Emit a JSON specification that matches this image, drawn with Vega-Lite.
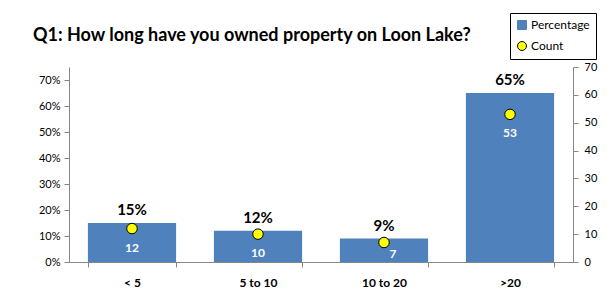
{
  "$schema": "https://vega.github.io/schema/vega-lite/v6.json",
  "width": 504,
  "height": 195,
  "autosize": {"type": "none"},
  "padding": {"left": 69, "top": 67, "right": 43, "bottom": 37},
  "background": "white",
  "title": {
    "text": "Q1: How long have you owned property on Loon Lake?",
    "anchor": "start",
    "frame": "group",
    "dx": -36,
    "offset": -32,
    "font": "Lato",
    "fontSize": 18,
    "fontWeight": "bold",
    "color": "#000000"
  },
  "data": {
    "values": [
      {"cat": "< 5", "pct": 0.15, "count": 12},
      {"cat": "5 to 10", "pct": 0.12, "count": 10},
      {"cat": "10 to 20", "pct": 0.09, "count": 7},
      {"cat": ">20", "pct": 0.65, "count": 53}
    ]
  },
  "encoding": {
    "x": {
      "field": "cat",
      "type": "nominal",
      "sort": null,
      "scale": {"paddingInner": 0.3, "paddingOuter": 0.15},
      "axis": {
        "title": null,
        "labelAngle": 0,
        "labelFont": "Lato",
        "labelFontSize": 12,
        "labelFontWeight": "bold",
        "labelColor": "#000000",
        "labelPadding": 10,
        "tickBand": "extent",
        "domainColor": "#868686",
        "tickColor": "#868686",
        "tickSize": 5
      }
    }
  },
  "layer": [
    {
      "encoding": {
        "y": {
          "field": "pct",
          "type": "quantitative",
          "scale": {"domain": [0, 0.75], "nice": false},
          "axis": {
            "title": null,
            "values": [0, 0.1, 0.2, 0.3, 0.4, 0.5, 0.6, 0.7],
            "format": ".0%",
            "grid": false,
            "labelOverlap": false,
            "labelFont": "Lato",
            "labelFontSize": 11,
            "labelColor": "#000000",
            "domainColor": "#868686",
            "tickColor": "#868686",
            "tickSize": 5,
            "labelPadding": 4
          }
        }
      },
      "layer": [
        {
          "mark": {"type": "bar"},
          "encoding": {
            "color": {
              "datum": "Percentage",
              "scale": {"domain": ["Percentage", "Count"], "range": ["#4f81bd", "#ffff00"]},
              "legend": {
                "title": null,
                "orient": "none",
                "legendX": 441,
                "legendY": -54,
                "labelFont": "Lato",
                "labelFontSize": 12,
                "labelColor": "#000000",
                "strokeColor": "#000000",
                "fillColor": "white",
                "padding": 6,
                "rowPadding": 7,
                "symbolSize": 80,
                "symbolOffset": 0,
                "labelOffset": 3,
                "encode": {
                  "symbols": {
                    "update": {
                      "shape": {"signal": "datum.value === 'Count' ? 'circle' : 'square'"},
                      "stroke": {"signal": "datum.value === 'Count' ? '#000000' : '#4f81bd'"},
                      "strokeWidth": {"value": 1}
                    }
                  }
                }
              }
            }
          }
        },
        {
          "mark": {"type": "text", "baseline": "alphabetic", "dy": -8, "font": "Lato", "fontSize": 15, "fontWeight": "bold", "color": "#000000"},
          "encoding": {
            "text": {"field": "pct", "type": "quantitative", "format": ".0%"}
          }
        }
      ]
    },
    {
      "encoding": {
        "y": {
          "field": "count",
          "type": "quantitative",
          "scale": {"domain": [0, 70], "nice": false},
          "axis": {
            "orient": "right",
            "title": null,
            "values": [0, 10, 20, 30, 40, 50, 60, 70],
            "grid": false,
            "labelOverlap": false,
            "labelFont": "Lato",
            "labelFontSize": 11,
            "labelColor": "#000000",
            "domainColor": "#868686",
            "tickColor": "#868686",
            "tickSize": 5,
            "labelPadding": 6
          }
        }
      },
      "layer": [
        {
          "mark": {"type": "point", "filled": true, "size": 110, "stroke": "#000000", "strokeWidth": 1, "opacity": 1},
          "encoding": {
            "color": {"datum": "Count"}
          }
        },
        {
          "transform": [{"filter": "datum.cat !== '10 to 20'"}],
          "mark": {"type": "text", "baseline": "middle", "dy": 19, "font": "Lato", "fontSize": 12, "fontWeight": "bold", "color": "#ffffff"},
          "encoding": {
            "text": {"field": "count", "type": "quantitative"}
          }
        },
        {
          "transform": [{"filter": "datum.cat === '10 to 20'"}],
          "mark": {"type": "text", "baseline": "middle", "dx": 9, "dy": 11, "font": "Lato", "fontSize": 12, "fontWeight": "bold", "color": "#ffffff"},
          "encoding": {
            "text": {"field": "count", "type": "quantitative"}
          }
        }
      ]
    }
  ],
  "resolve": {"scale": {"y": "independent"}},
  "config": {
    "view": {"stroke": null},
    "axis": {"grid": false}
  }
}
